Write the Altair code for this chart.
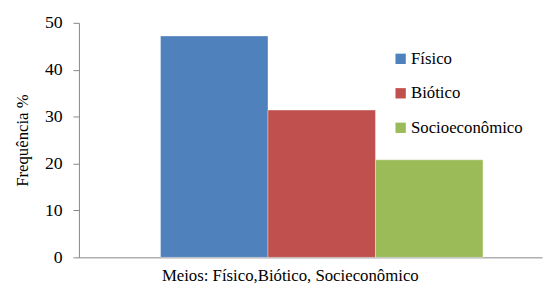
import altair as alt
import pandas as pd

categorias = ["Físico", "Biótico", "Socioeconômico"]
valores = [47.2, 31.4, 20.8]
cores = ["#4F81BD", "#C0504D", "#9BBB59"]
y_ticks = [0, 10, 20, 30, 40, 50]

df = pd.DataFrame({"Meio": categorias, "Frequencia": valores})

FONT = "'Liberation Serif', 'DejaVu Serif', 'Times New Roman', serif"

chart = alt.Chart(df).mark_bar(stroke="#ffffff", strokeWidth=0.6, strokeOpacity=0.6).encode(
    x=alt.X(
        "Meio:N",
        sort=categorias,
        scale=alt.Scale(paddingInner=0, paddingOuter=0.654, align=0.58),
        axis=alt.Axis(
            title="Meios: Físico,Biótico, Socieconômico",
            labels=False, ticks=False, domainColor="#868686", domainWidth=1,
            titleFont=FONT, titleFontSize=17, titleFontWeight="normal", titleColor="#000000",
            titleX=214, titleY=11, titleAnchor="middle", titleAlign="center", titleBaseline="top",
        ),
    ),
    y=alt.Y(
        "Frequencia:Q",
        scale=alt.Scale(domain=[0, 50], nice=False),
        axis=alt.Axis(
            title="Frequência %", values=y_ticks, grid=False,
            domainColor="#868686", tickColor="#868686", tickSize=6,
            labelFont=FONT, labelFontSize=18, labelColor="#000000", labelPadding=11,
            titleFont=FONT, titleFontSize=17, titleFontWeight="normal", titleColor="#000000",
            titlePadding=13,
        ),
    ),
    color=alt.Color(
        "Meio:N",
        sort=categorias,
        scale=alt.Scale(domain=categorias, range=cores),
        legend=alt.Legend(
            title=None, orient="none", legendX=318, legendY=28,
            symbolType="square", symbolSize=110, symbolStrokeWidth=0,
            labelFont=FONT, labelFontSize=17, labelColor="#000000",
            rowPadding=17, labelOffset=2,
        ),
    ),
).properties(
    width=470, height=238,
    autosize=alt.AutoSizeParams(type="none"),
    padding={"left": 72, "top": 13, "right": 2, "bottom": 26},
).configure_view(stroke=None)

chart.save("out.html", embed_options={"renderer": "svg", "actions": False})
